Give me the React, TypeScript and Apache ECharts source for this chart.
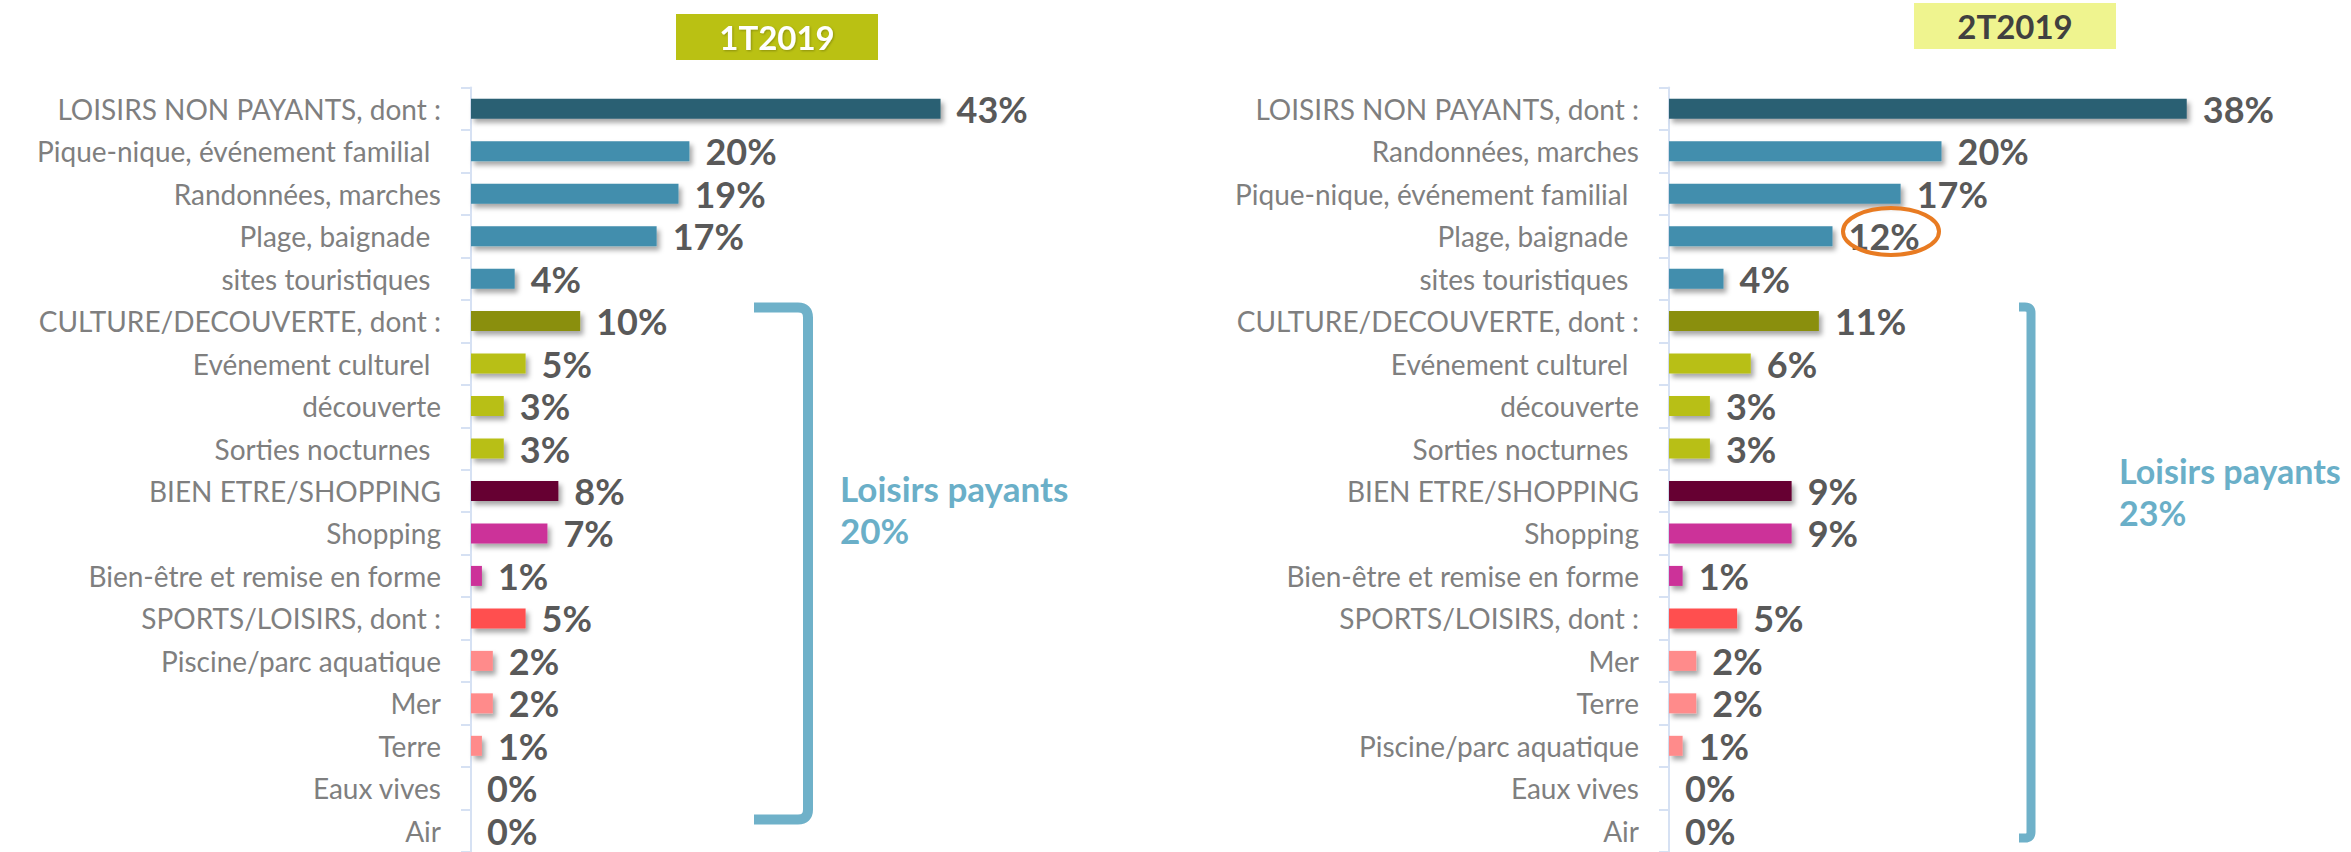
import React, { useEffect, useRef } from "react";
import * as echarts from "echarts";

const cats1 = [
  "LOISIRS NON PAYANTS, dont :",
  "Pique-nique, événement familial ",
  "Randonnées, marches",
  "Plage, baignade ",
  "sites touristiques ",
  "CULTURE/DECOUVERTE, dont :",
  "Evénement culturel ",
  "découverte",
  "Sorties nocturnes ",
  "BIEN ETRE/SHOPPING",
  "Shopping",
  "Bien-être et remise en forme",
  "SPORTS/LOISIRS, dont :",
  "Piscine/parc aquatique",
  "Mer",
  "Terre",
  "Eaux vives",
  "Air",
];
const vals1 = [43, 20, 19, 17, 4, 10, 5, 3, 3, 8, 7, 1, 5, 2, 2, 1, 0, 0];
const groups1 = ["h1", "s1", "s1", "s1", "s1", "h2", "s2", "s2", "s2", "h3", "s3", "s3", "h4", "s4", "s4", "s4", "s4", "s4"];

const cats2 = [
  "LOISIRS NON PAYANTS, dont :",
  "Randonnées, marches",
  "Pique-nique, événement familial ",
  "Plage, baignade ",
  "sites touristiques ",
  "CULTURE/DECOUVERTE, dont :",
  "Evénement culturel ",
  "découverte",
  "Sorties nocturnes ",
  "BIEN ETRE/SHOPPING",
  "Shopping",
  "Bien-être et remise en forme",
  "SPORTS/LOISIRS, dont :",
  "Mer",
  "Terre",
  "Piscine/parc aquatique",
  "Eaux vives",
  "Air",
];
const vals2 = [38, 20, 17, 12, 4, 11, 6, 3, 3, 9, 9, 1, 5, 2, 2, 1, 0, 0];
const groups2 = ["h1", "s1", "s1", "s1", "s1", "h2", "s2", "s2", "s2", "h3", "s3", "s3", "h4", "s4", "s4", "s4", "s4", "s4"];

const periods = ["1T2019", "2T2019"];
const payantsShare = ["20%", "23%"];

const groupColors: Record<string, string> = {
  h1: "#2b6173",
  s1: "#428ead",
  h2: "#8a8f10",
  s2: "#b8bf12",
  h3: "#660033",
  s3: "#cc3399",
  h4: "#ff4f4f",
  s4: "#ff8b8b",
};

const FONT = "Lato, 'Open Sans', sans-serif";

export default function App() {
  const ref = useRef<HTMLDivElement>(null);
  useEffect(() => {
    if (!ref.current) return;
    const chart = echarts.init(ref.current, undefined, { renderer: "svg" });

    const yAxisBase = (cats: string[], idx: number) => ({
      type: "category",
      gridIndex: idx,
      data: cats,
      inverse: true,
      axisLine: { show: true, lineStyle: { color: "#d6e1f3", width: 2 } },
      axisTick: { show: true, length: 10, lineStyle: { color: "#d6e1f3", width: 2 } },
      axisLabel: {
        margin: 30,
        color: "#7f7f7f",
        fontSize: 28,
        fontFamily: FONT,
        formatter: (v: string) => v.replace(/ $/, "\u00a0\u2009"),
      },
      splitLine: { show: false },
    });

    const seriesFor = (vals: number[], groups: string[], idx: number) => ({
      type: "bar",
      xAxisIndex: idx,
      yAxisIndex: idx,
      barWidth: 20,
      data: vals.map((v, i) => ({
        value: v,
        itemStyle: {
          color: groupColors[groups[i]],
          shadowBlur: 5,
          shadowColor: "rgba(0,0,0,0.35)",
          shadowOffsetX: 3,
          shadowOffsetY: 4,
        },
      })),
      label: {
        show: true,
        position: "right",
        distance: 16,
        formatter: (p: any) => `${p.value}%`,
        color: "#595959",
        fontSize: 36,
        fontWeight: "bold",
        fontFamily: FONT,
      },
    });

    const bracketPath = (x0: number, x1: number, y0: number, y1: number, r: number) =>
      `M${x0} ${y0} L${x1 - r} ${y0} Q${x1} ${y0} ${x1} ${y0 + r} L${x1} ${y1 - r} Q${x1} ${y1} ${x1 - r} ${y1} L${x0} ${y1}`;

    echarts.graphic.registerShape(
      "bracketL",
      echarts.graphic.extendPath(bracketPath(754, 808, 307.5, 819.5, 10), {})
    );
    echarts.graphic.registerShape(
      "bracketR",
      echarts.graphic.extendPath(bracketPath(2019, 2031, 307, 838, 6), {})
    );

    chart.setOption({
      animation: false,
      backgroundColor: "#ffffff",
      grid: [
        { left: 471, top: 87.5, width: 546, height: 765, containLabel: false },
        { left: 1669, top: 87.5, width: 545, height: 765, containLabel: false },
      ],
      xAxis: [
        { type: "value", gridIndex: 0, min: 0, max: 50, show: false },
        { type: "value", gridIndex: 1, min: 0, max: 40, show: false },
      ],
      yAxis: [yAxisBase(cats1, 0), yAxisBase(cats2, 1)],
      series: [seriesFor(vals1, groups1, 0), seriesFor(vals2, groups2, 1)],
      graphic: [
        { type: "rect", shape: { x: 676, y: 14, width: 202, height: 46 }, style: { fill: "#bac113" } },
        {
          type: "text",
          x: 777,
          y: 37,
          style: {
            text: periods[0],
            fill: "#ffffff",
            fontSize: 33,
            fontWeight: "bold",
            fontFamily: FONT,
            align: "center",
            verticalAlign: "middle",
            textShadowColor: "rgba(0,0,0,0.25)",
            textShadowBlur: 2,
            textShadowOffsetX: 1,
            textShadowOffsetY: 1,
          },
        },
        { type: "rect", shape: { x: 1914, y: 3, width: 202, height: 46 }, style: { fill: "#eff48f" } },
        {
          type: "text",
          x: 2015,
          y: 26,
          style: {
            text: periods[1],
            fill: "#404040",
            fontSize: 33,
            fontWeight: "bold",
            fontFamily: FONT,
            align: "center",
            verticalAlign: "middle",
          },
        },
        {
          type: "bracketL",
          style: { fill: "none", stroke: "#6fb1c9", lineWidth: 10 },
        },
        {
          type: "bracketR",
          style: { fill: "none", stroke: "#6fb1c9", lineWidth: 9 },
        },
        {
          type: "text",
          x: 840,
          y: 509,
          style: {
            text: `Loisirs payants\n${payantsShare[0]}`,
            fill: "#6aafc8",
            fontSize: 35,
            fontWeight: "bold",
            fontFamily: FONT,
            lineHeight: 42,
            verticalAlign: "middle",
          },
        },
        {
          type: "text",
          x: 2119,
          y: 491,
          style: {
            text: `Loisirs payants\n${payantsShare[1]}`,
            fill: "#6aafc8",
            fontSize: 34,
            fontWeight: "bold",
            fontFamily: FONT,
            lineHeight: 42,
            verticalAlign: "middle",
          },
        },
        {
          type: "ellipse",
          shape: { cx: 1891, cy: 231.5, rx: 48, ry: 23.5 },
          style: { fill: "none", stroke: "#e87b22", lineWidth: 4 },
          z: 100,
        },
      ],
    });
    return () => chart.dispose();
  }, []);
  return (
    <div
      ref={ref}
      style={{ position: "absolute", left: 0, top: 0, width: 2351, height: 852, background: "#fff" }}
    />
  );
}
